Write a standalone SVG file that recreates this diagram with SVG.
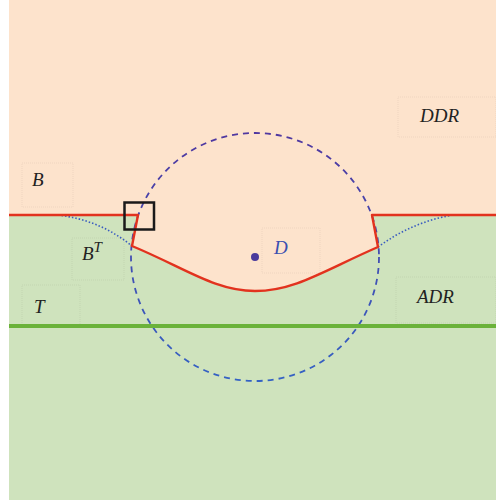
<svg xmlns="http://www.w3.org/2000/svg" width="496" height="500" viewBox="0 0 496 500">
<defs>
<linearGradient id="cg" x1="0" y1="133" x2="0" y2="381" gradientUnits="userSpaceOnUse">
<stop offset="0" stop-color="#5038a0"/>
<stop offset="1" stop-color="#3462c4"/>
</linearGradient>
</defs>
<style>
.lbl{font-family:"Liberation Serif",serif;font-style:italic;font-size:19px;fill:#222}
.box{fill:none;stroke:#000;stroke-opacity:0.06;stroke-width:1;stroke-dasharray:1 1}
.dot{fill:none;stroke:#3a5cc0;stroke-width:1.6;stroke-dasharray:1.5 2}
</style>
<rect x="0" y="0" width="496" height="500" fill="#ffffff"/>
<g id="ddr-region"><rect x="9" y="0" width="487" height="500" fill="#fde3cc"/></g>
<g id="adr-region"><path d="M9,215 H138 L132,246 C185,268 215,291 255,291 C295,291 325,270 378,247 L372,215 H496 V500 H9 Z" fill="#cfe3bd"/></g>
<g id="boxes">
<rect class="box" x="22" y="163" width="51" height="44"/>
<rect class="box" x="72" y="238" width="52" height="42"/>
<rect class="box" x="22" y="285" width="58" height="40"/>
<rect class="box" x="262" y="228" width="58" height="45"/>
<rect class="box" x="398" y="97" width="98" height="40"/>
<rect class="box" x="396" y="277" width="100" height="46"/>
</g>
<g id="connectors">
<circle cx="255" cy="257" r="124" fill="none" stroke="url(#cg)" stroke-width="1.8" stroke-dasharray="6 5"/>
<path class="dot" d="M58,215 Q100,220 132,246"/>
<path class="dot" d="M378,247 Q412,222 453,215"/>
<path d="M9,215 H138 L132,246 C185,268 215,291 255,291 C295,291 325,270 378,247 L372,215 H496" fill="none" stroke="#e2321e" stroke-width="2.4" stroke-linejoin="round"/>
<line x1="9" y1="326" x2="496" y2="326" stroke="#6bb23a" stroke-width="4"/>
</g>
<g id="square"><rect x="124.5" y="202.5" width="29.5" height="27" fill="none" stroke="#1a1a1a" stroke-width="2.5"/></g>
<g id="D"><circle cx="255" cy="257" r="4" fill="#4a3a9c"/><text x="274" y="254" class="lbl" style="fill:#3a4fb0">D</text></g>
<g id="B"><text x="32" y="186" class="lbl">B</text></g>
<g id="BT"><text x="82" y="260" class="lbl">B<tspan dy="-8" font-size="15">T</tspan></text></g>
<g id="T"><text x="34" y="313" class="lbl">T</text></g>
<g id="DDR"><text x="420" y="122" class="lbl">DDR</text></g>
<g id="ADR"><text x="417" y="303" class="lbl">ADR</text></g>
</svg>
